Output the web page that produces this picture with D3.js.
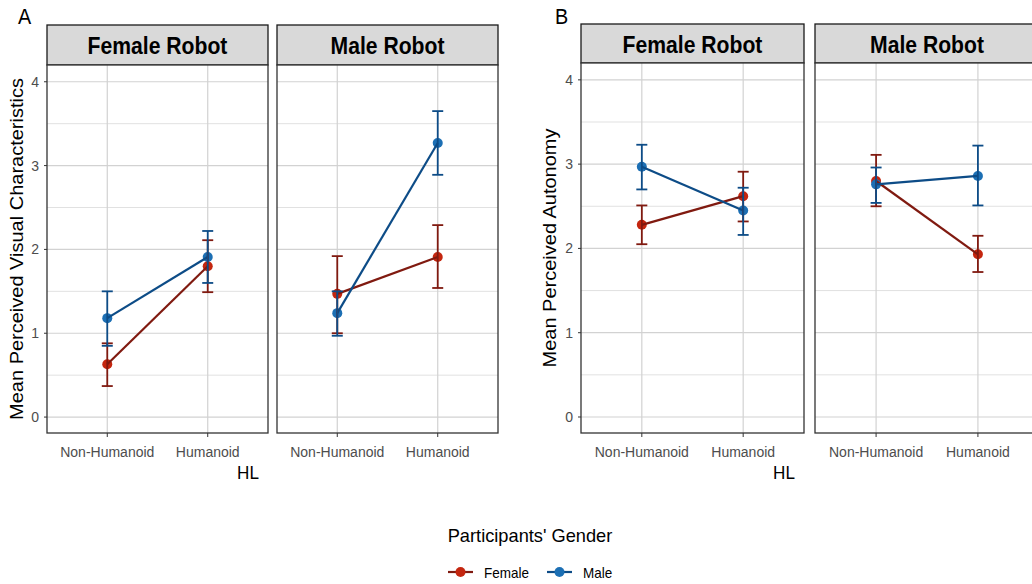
<!DOCTYPE html>
<html>
<head>
<meta charset="utf-8">
<script src="https://cdn.jsdelivr.net/npm/d3@7"></script>
<style>
  html, body { margin: 0; padding: 0; background: #fff; }
  svg { display: block; font-family: "Liberation Sans", Arial, sans-serif; }
</style>
</head>
<body>
<svg id="chart" width="1032" height="584"></svg>
<script>
// Factors
const hlLevels = ["Non-Humanoid", "Humanoid"];
const robotLevels = ["Female Robot", "Male Robot"];
const genderLevels = ["Female", "Male"];
const yTicks = [0, 1, 2, 3, 4];
const yMinorTicks = [0.5, 1.5, 2.5, 3.5];

// Means and 95% CI bounds, ordered robot -> participant gender -> HL
const visualMean = [0.63, 1.80, 1.18, 1.91, 1.47, 1.91, 1.24, 3.27];
const visualLow  = [0.37, 1.49, 0.85, 1.60, 1.00, 1.54, 0.97, 2.89];
const visualHigh = [0.88, 2.11, 1.50, 2.22, 1.92, 2.29, 1.50, 3.65];

const autonomyMean = [2.28, 2.62, 2.97, 2.45, 2.80, 1.93, 2.76, 2.86];
const autonomyLow  = [2.05, 2.32, 2.70, 2.16, 2.50, 1.72, 2.54, 2.51];
const autonomyHigh = [2.51, 2.91, 3.23, 2.72, 3.11, 2.15, 2.96, 3.22];

const pointColor = { Female: "#c4260f", Male: "#1c6fb4" };
const lineColor  = { Female: "#801a10", Male: "#0d4c87" };
const sx = 0.9; // horizontal glyph compression

const svg = d3.select("#chart");

function rows(mean, low, high) {
  const out = [];
  let i = 0;
  robotLevels.forEach(robot => genderLevels.forEach(gender => hlLevels.forEach(hl => {
    out.push({ robot, gender, hl, mean: mean[i], low: low[i], high: high[i] });
    i++;
  })));
  return out;
}

function label(g, x, y, text, opts) {
  return g.append("text")
    .attr("transform", `translate(${x},${y}) scale(${opts.scale ?? sx},1)`)
    .attr("text-anchor", opts.anchor || "start")
    .attr("font-size", opts.size)
    .attr("font-weight", opts.weight || "normal")
    .attr("fill", opts.fill || "#000")
    .text(text);
}

function drawFigure(cfg) {
  const data = rows(cfg.mean, cfg.low, cfg.high);
  const g = svg.append("g");

  cfg.panels.forEach(([left, right], pi) => {
    const robot = robotLevels[pi];
    const x = d3.scalePoint().domain(hlLevels).range([left, right]).padding(0.6);
    const y = d3.scaleLinear().domain([-0.19, 4.2]).range([cfg.bottom, cfg.stripBottom]);
    const p = g.append("g");

    // strip
    p.append("rect")
      .attr("x", left).attr("y", cfg.stripTop)
      .attr("width", right - left).attr("height", cfg.stripBottom - cfg.stripTop)
      .attr("fill", "#d9d9d9").attr("stroke", "#1a1a1a").attr("stroke-width", 1.3);
    label(p, (left + right) / 2, cfg.stripTop + 29, robot, { anchor: "middle", size: 23, weight: "bold", scale: 0.92 });

    // panel background and grid
    p.append("rect")
      .attr("x", left).attr("y", cfg.stripBottom)
      .attr("width", right - left).attr("height", cfg.bottom - cfg.stripBottom)
      .attr("fill", "#fff");
    p.selectAll(".minor").data(yMinorTicks).join("line")
      .attr("x1", left).attr("x2", right)
      .attr("y1", d => y(d)).attr("y2", d => y(d))
      .attr("stroke", "#e1e1e1").attr("stroke-width", 1);
    p.selectAll(".major").data(yTicks).join("line")
      .attr("x1", left).attr("x2", right)
      .attr("y1", d => y(d)).attr("y2", d => y(d))
      .attr("stroke", "#d2d2d2").attr("stroke-width", 1.2);
    p.selectAll(".vgrid").data(hlLevels).join("line")
      .attr("x1", d => x(d)).attr("x2", d => x(d))
      .attr("y1", cfg.stripBottom).attr("y2", cfg.bottom)
      .attr("stroke", "#d2d2d2").attr("stroke-width", 1.2);

    // y axis (first panel only)
    if (pi === 0) {
      yTicks.forEach(t => {
        p.append("line").attr("x1", left - 3).attr("x2", left)
          .attr("y1", y(t)).attr("y2", y(t)).attr("stroke", "#333").attr("stroke-width", 1);
        label(p, left - 8, y(t) + 5, String(t), { anchor: "end", size: 14, fill: "#4d4d4d", scale: 1 });
      });
    }
    // x axis
    hlLevels.forEach(h => {
      p.append("line").attr("x1", x(h)).attr("x2", x(h))
        .attr("y1", cfg.bottom).attr("y2", cfg.bottom + 4).attr("stroke", "#333").attr("stroke-width", 1);
      label(p, x(h), cfg.bottom + 24, h, { anchor: "middle", size: 14, fill: "#4d4d4d", scale: 1 });
    });

    const pd = data.filter(d => d.robot === robot);
    const line = d3.line().x(d => x(d.hl)).y(d => y(d.mean));

    // points
    genderLevels.forEach(gender => {
      const gd = pd.filter(d => d.gender === gender);
      p.selectAll(null).data(gd).join("circle")
        .attr("cx", d => x(d.hl)).attr("cy", d => y(d.mean)).attr("r", 5)
        .attr("fill", pointColor[gender]);
    });
    // lines
    genderLevels.forEach(gender => {
      const gd = pd.filter(d => d.gender === gender);
      p.append("path").datum(gd).attr("d", line)
        .attr("fill", "none").attr("stroke", lineColor[gender]).attr("stroke-width", 2.2);
    });
    // error bars
    genderLevels.forEach(gender => {
      const gd = pd.filter(d => d.gender === gender);
      const eb = p.selectAll(null).data(gd).join("g")
        .attr("stroke", lineColor[gender]).attr("stroke-width", 1.8);
      eb.append("line").attr("x1", d => x(d.hl)).attr("x2", d => x(d.hl))
        .attr("y1", d => y(d.low)).attr("y2", d => y(d.high));
      eb.append("line").attr("x1", d => x(d.hl) - 5.5).attr("x2", d => x(d.hl) + 5.5)
        .attr("y1", d => y(d.low)).attr("y2", d => y(d.low));
      eb.append("line").attr("x1", d => x(d.hl) - 5.5).attr("x2", d => x(d.hl) + 5.5)
        .attr("y1", d => y(d.high)).attr("y2", d => y(d.high));
    });

    // panel border
    p.append("rect")
      .attr("x", left).attr("y", cfg.stripBottom)
      .attr("width", right - left).attr("height", cfg.bottom - cfg.stripBottom)
      .attr("fill", "none").attr("stroke", "#333").attr("stroke-width", 1.3);
  });

  // titles
  const yMid = (cfg.stripBottom + cfg.bottom) / 2;
  g.append("text")
    .attr("transform", `translate(${cfg.yTitleX},${yMid}) rotate(-90) scale(1,0.9)`)
    .attr("text-anchor", "middle").attr("font-size", 20).attr("fill", "#000")
    .text(cfg.yTitle);
  label(g, cfg.hlX, 479, "HL", { anchor: "middle", size: 19 });
  label(g, cfg.tagX, 24, cfg.tag, { anchor: "start", size: 22 });
}

drawFigure({
  tag: "A", tagX: 18,
  panels: [[47, 268], [277, 498]],
  stripTop: 25, stripBottom: 65, bottom: 433,
  yTitle: "Mean Perceived Visual Characteristics", yTitleX: 23, hlX: 248,
  mean: visualMean, low: visualLow, high: visualHigh
});

drawFigure({
  tag: "B", tagX: 555,
  panels: [[581, 804], [815, 1039]],
  stripTop: 24, stripBottom: 63, bottom: 433,
  yTitle: "Mean Perceived Autonomy", yTitleX: 556, hlX: 784,
  mean: autonomyMean, low: autonomyLow, high: autonomyHigh
});

// legend
const leg = svg.append("g");
label(leg, 530, 542, "Participants' Gender", { anchor: "middle", size: 19, scale: 0.96 });
const legendX = { Female: 448, Male: 547 };
genderLevels.forEach(gender => {
  const x0 = legendX[gender];
  leg.append("line").attr("x1", x0).attr("x2", x0 + 25).attr("y1", 572).attr("y2", 572)
    .attr("stroke", lineColor[gender]).attr("stroke-width", 2.2);
  leg.append("circle").attr("cx", x0 + 12.5).attr("cy", 572).attr("r", 5).attr("fill", pointColor[gender]);
  label(leg, x0 + 36, 578, gender, { anchor: "start", size: 15 });
});
</script>
</body>
</html>
